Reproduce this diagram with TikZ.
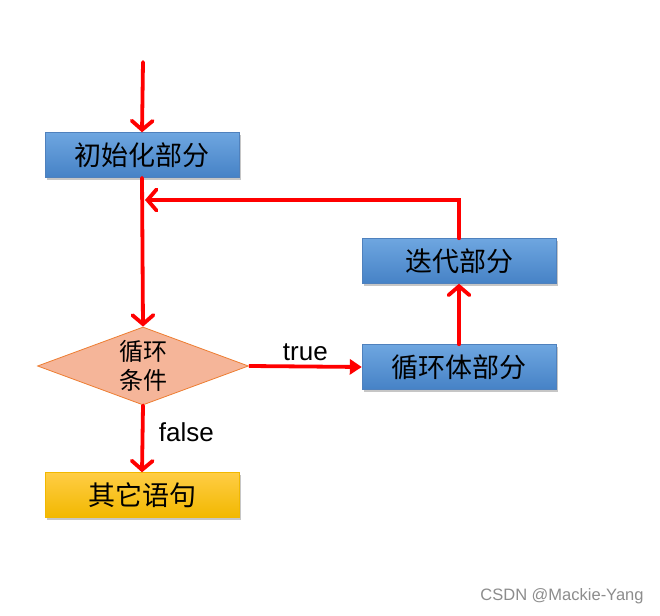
\documentclass[tikz,border=0pt]{standalone}
\usepackage{fontspec}
\setmainfont{Liberation Sans}
\newfontfamily\cjk{Noto Sans CJK SC}
\usetikzlibrary{arrows.meta,shapes.geometric,shadows}
\definecolor{boxtop}{HTML}{6EA6E0}
\definecolor{boxbot}{HTML}{4682C6}
\definecolor{boxline}{HTML}{4F81BD}
\definecolor{goldtop}{HTML}{FFCD45}
\definecolor{goldbot}{HTML}{F2B800}
\definecolor{condfill}{HTML}{F5B599}
\definecolor{condline}{HTML}{ED7D31}
\definecolor{flowred}{HTML}{FF0000}
\tikzset{
  partbox/.style={rectangle, minimum width=194pt, minimum height=45pt, inner sep=0pt,
    draw=boxline, line width=0.4pt, top color=boxtop, bottom color=boxbot,
    drop shadow={opacity=0.45, shadow xshift=2pt, shadow yshift=-3pt},
    font=\cjk\fontsize{27}{30}\selectfont},
  otherbox/.style={partbox, draw=goldbot, top color=goldtop, bottom color=goldbot},
  condbox/.style={diamond, aspect=2.7, minimum width=211pt, minimum height=78pt, inner sep=0pt,
    draw=condline, line width=0.8pt, fill=condfill, align=center,
    font=\cjk\fontsize{24}{29}\selectfont},
  flow/.style={draw=flowred, line width=3.8pt, line cap=round, line join=miter,
    -{Straight Barb[length=9pt,width=21pt,line cap=round]}},
  tflow/.style={draw=flowred, line width=3.8pt, -{Triangle[length=12pt,width=15pt]}},
  tag/.style={font=\fontsize{26}{29}\selectfont}
}
\begin{document}
\begin{tikzpicture}[x=1pt, y=1pt]
    \useasboundingbox (0,0) rectangle (660,615);
    \coordinate (start) at (143,553);
    \coordinate (loopin) at (145,415);

    \node[partbox] (init) at (142,460) {初始化部分};
    \node[condbox] (cond) at (143,249) {循环\\条件};
    \node[partbox] (body) at (459,248) {循环体部分};
    \node[partbox] (iter) at (459,354) {迭代部分};
    \node[otherbox] (other) at (142,120) {其它语句};

    \draw[flow] (start) -- (init.north);
    \draw[flow] (init.south) -- (cond.north);
    \draw[tflow] (cond.east) -- (body.west) node[tag, midway, above=1pt] {true};
    \draw[flow] (body.north) -- (iter.south);
    \draw[flow] (iter.north) |- (loopin);
    \draw[flow] (cond.south) -- (other.north) node[tag, pos=0.4, right=11pt] {false};

    \node[text=black!45, font=\fontsize{16.5}{18}\selectfont] (mark) at (562,19) {CSDN @Mackie-Yang};
\end{tikzpicture}
\end{document}
